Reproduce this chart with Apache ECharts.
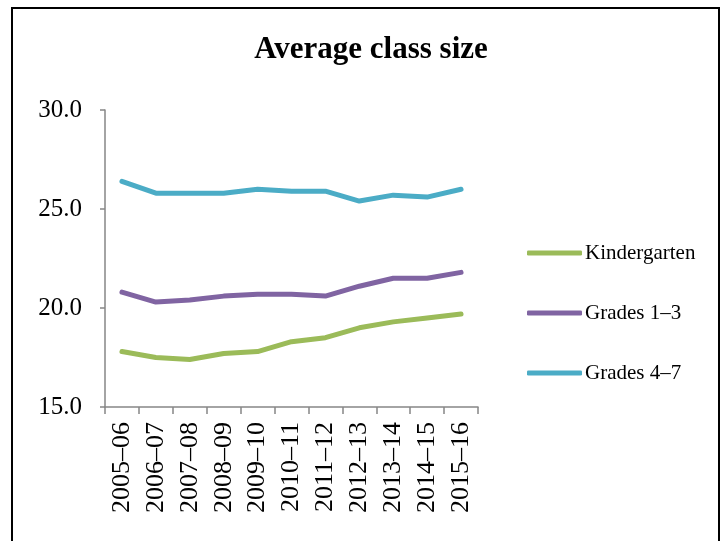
<!DOCTYPE html>
<html>
<head>
<meta charset="utf-8">
<script src="https://cdn.jsdelivr.net/npm/echarts@6/dist/echarts.min.js"></script>
<style>
  html, body { margin: 0; padding: 0; background: #fff; }
  #myChart { width: 723px; height: 541px; }
</style>
</head>
<body>
<div id="myChart"></div>
<script>
// school years on the x axis
var years = ["2005\u201306", "2006\u201307", "2007\u201308", "2008\u201309", "2009\u201310",
  "2010\u201311", "2011\u201312", "2012\u201313", "2013\u201314", "2014\u201315", "2015\u201316"];
var kindergarten = [17.8, 17.5, 17.4, 17.7, 17.8, 18.3, 18.5, 19.0, 19.3, 19.5, 19.7];
var grades1to3 = [20.8, 20.3, 20.4, 20.6, 20.7, 20.7, 20.6, 21.1, 21.5, 21.5, 21.8];
var grades4to7 = [26.4, 25.8, 25.8, 25.8, 26.0, 25.9, 25.9, 25.4, 25.7, 25.6, 26.0];

var font = '"Liberation Serif", "Times New Roman", serif';
var axisGray = "#868686";

var chartDom = document.getElementById("myChart");
var myChart = echarts.init(chartDom, null, { renderer: "canvas" });

function lineSeries(name, data, color) {
  return {
    name: name,
    type: "line",
    data: data,
    symbol: "none",
    animation: false,
    itemStyle: { color: color },
    lineStyle: { color: color, width: 5, cap: "round", join: "round" }
  };
}

var option = {
  backgroundColor: "#fff",
  animation: false,
  graphic: [
    {
      type: "rect",
      shape: { x: 12, y: 8, width: 707, height: 545 },
      style: { fill: "none", stroke: "#000", lineWidth: 2 },
      silent: true
    }
  ],
  title: {
    text: "Average class size",
    left: 366,
    textAlign: "center",
    top: 29,
    textStyle: { fontFamily: font, fontSize: 31, fontWeight: "bold", color: "#000" }
  },
  grid: { left: 105, right: 245, top: 110, bottom: 134, containLabel: false },
  legend: {
    orient: "vertical",
    left: 527,
    top: 242,
    padding: 0,
    itemWidth: 55,
    itemHeight: 5,
    itemGap: 38,
    icon: "roundRect",
    textStyle: { fontFamily: font, fontSize: 21, color: "#000", lineHeight: 22, padding: [0, 0, 0, -2] },
    data: ["Kindergarten", "Grades 1\u20133", "Grades 4\u20137"]
  },
  xAxis: {
    type: "category",
    data: years,
    boundaryGap: true,
    axisLine: { lineStyle: { color: axisGray, width: 1.5 } },
    axisTick: { show: true, inside: false, length: 7, lineStyle: { color: axisGray, width: 1.5 } },
    axisLabel: {
      rotate: 90,
      margin: 15,
      interval: 0,
      fontFamily: font,
      fontSize: 26,
      color: "#000"
    },
    splitLine: { show: false }
  },
  yAxis: {
    type: "value",
    min: 15,
    max: 30,
    interval: 5,
    axisLine: { show: true, lineStyle: { color: axisGray, width: 1.5 } },
    axisTick: { show: true, inside: false, length: 5, lineStyle: { color: axisGray, width: 1.5 } },
    axisLabel: {
      margin: 23,
      fontFamily: font,
      fontSize: 25,
      color: "#000",
      formatter: function (v) { return v.toFixed(1); }
    },
    splitLine: { show: false }
  },
  series: [
    lineSeries("Kindergarten", kindergarten, "#9BBB59"),
    lineSeries("Grades 1\u20133", grades1to3, "#8064A2"),
    lineSeries("Grades 4\u20137", grades4to7, "#4BACC6")
  ]
};

option && myChart.setOption(option);
</script>
</body>
</html>
